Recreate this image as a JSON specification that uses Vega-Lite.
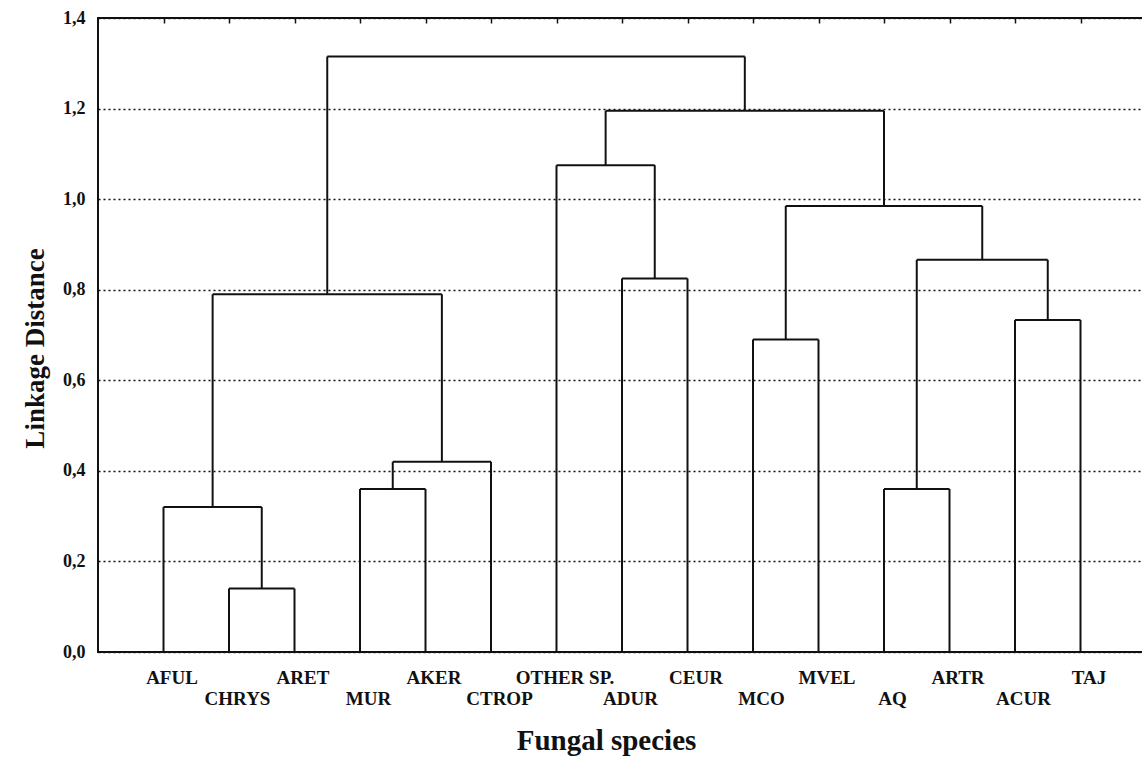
{
  "$schema": "https://vega.github.io/schema/vega-lite/v6.json",
  "autosize": "none",
  "padding": {"left": 98, "top": 18, "right": 0, "bottom": 106},
  "width": 1048,
  "height": 634,
  "background": "white",
  "config": {
    "view": {"stroke": "#111", "strokeWidth": 2},
    "font": "Liberation Serif"
  },
  "data": {
    "values": [
      {"x": 2, "x2": 3, "y": 0.14, "y2": 0.14},
      {"x": 1, "x2": 2.5, "y": 0.32, "y2": 0.32},
      {"x": 4, "x2": 5, "y": 0.36, "y2": 0.36},
      {"x": 4.5, "x2": 6, "y": 0.42, "y2": 0.42},
      {"x": 1.75, "x2": 5.25, "y": 0.79, "y2": 0.79},
      {"x": 8, "x2": 9, "y": 0.825, "y2": 0.825},
      {"x": 7, "x2": 8.5, "y": 1.075, "y2": 1.075},
      {"x": 10, "x2": 11, "y": 0.69, "y2": 0.69},
      {"x": 12, "x2": 13, "y": 0.36, "y2": 0.36},
      {"x": 14, "x2": 15, "y": 0.733, "y2": 0.733},
      {"x": 12.5, "x2": 14.5, "y": 0.866, "y2": 0.866},
      {"x": 10.5, "x2": 13.5, "y": 0.985, "y2": 0.985},
      {"x": 7.75, "x2": 12, "y": 1.195, "y2": 1.195},
      {"x": 3.5, "x2": 9.875, "y": 1.315, "y2": 1.315},
      {"x": 1, "x2": 1, "y": 0, "y2": 0.32},
      {"x": 2, "x2": 2, "y": 0, "y2": 0.14},
      {"x": 3, "x2": 3, "y": 0, "y2": 0.14},
      {"x": 4, "x2": 4, "y": 0, "y2": 0.36},
      {"x": 5, "x2": 5, "y": 0, "y2": 0.36},
      {"x": 6, "x2": 6, "y": 0, "y2": 0.42},
      {"x": 7, "x2": 7, "y": 0, "y2": 1.075},
      {"x": 8, "x2": 8, "y": 0, "y2": 0.825},
      {"x": 9, "x2": 9, "y": 0, "y2": 0.825},
      {"x": 10, "x2": 10, "y": 0, "y2": 0.69},
      {"x": 11, "x2": 11, "y": 0, "y2": 0.69},
      {"x": 12, "x2": 12, "y": 0, "y2": 0.36},
      {"x": 13, "x2": 13, "y": 0, "y2": 0.36},
      {"x": 14, "x2": 14, "y": 0, "y2": 0.733},
      {"x": 15, "x2": 15, "y": 0, "y2": 0.733},
      {"x": 2.5, "x2": 2.5, "y": 0.14, "y2": 0.32},
      {"x": 4.5, "x2": 4.5, "y": 0.36, "y2": 0.42},
      {"x": 1.75, "x2": 1.75, "y": 0.32, "y2": 0.79},
      {"x": 5.25, "x2": 5.25, "y": 0.42, "y2": 0.79},
      {"x": 8.5, "x2": 8.5, "y": 0.825, "y2": 1.075},
      {"x": 12.5, "x2": 12.5, "y": 0.36, "y2": 0.866},
      {"x": 14.5, "x2": 14.5, "y": 0.733, "y2": 0.866},
      {"x": 10.5, "x2": 10.5, "y": 0.69, "y2": 0.985},
      {"x": 13.5, "x2": 13.5, "y": 0.866, "y2": 0.985},
      {"x": 7.75, "x2": 7.75, "y": 1.075, "y2": 1.195},
      {"x": 12, "x2": 12, "y": 0.985, "y2": 1.195},
      {"x": 3.5, "x2": 3.5, "y": 0.79, "y2": 1.315},
      {"x": 9.875, "x2": 9.875, "y": 1.195, "y2": 1.315}
    ]
  },
  "resolve": {"axis": {"x": "independent"}},
  "layer": [
    {
      "mark": {"type": "rule", "color": "#111", "strokeWidth": 2},
      "encoding": {
        "x": {
          "field": "x", "type": "quantitative",
          "scale": {"domain": [0, 16], "nice": false, "zero": false},
          "axis": {
            "orient": "bottom",
            "values": [1, 2, 3, 4, 5, 6, 7, 8, 9, 10, 11, 12, 13, 14, 15],
            "labelExpr": "['', 'AFUL', 'CHRYS', 'ARET', 'MUR', 'AKER', 'CTROP', 'OTHER SP.', 'ADUR', 'CEUR', 'MCO', 'MVEL', 'AQ', 'ARTR', 'ACUR', 'TAJ'][datum.value]",
            "labelPadding": {"condition": {"test": "datum.value % 2 == 0", "value": 37}, "value": 16},
            "labelOffset": 8,
            "labelFont": "Liberation Serif",
            "labelFontWeight": "bold",
            "labelFontSize": 19,
            "labelColor": "#111",
            "labelOverlap": false,
            "labelFlush": false,
            "ticks": false,
            "domain": false,
            "grid": false,
            "title": "Fungal species",
            "titleFont": "Liberation Serif",
            "titleFontWeight": "bold",
            "titleFontSize": 29,
            "titleColor": "#111",
            "titlePadding": 18,
            "titleX": 508
          }
        },
        "x2": {"field": "x2"},
        "y": {
          "field": "y", "type": "quantitative",
          "scale": {"domain": [0, 1.4], "nice": false, "zero": false},
          "axis": {
            "values": [0, 0.2, 0.4, 0.6, 0.8, 1.0, 1.2, 1.4],
            "labelExpr": "replace(format(datum.value, '.1f'), '.', ',')",
            "labelFont": "Liberation Serif",
            "labelFontWeight": "bold",
            "labelFontSize": 18,
            "labelColor": "#111",
            "labelPadding": 13,
            "ticks": false,
            "domain": false,
            "grid": true,
            "gridColor": "#111",
            "gridDash": [2, 3],
            "gridWidth": 1.5,
            "title": "Linkage Distance",
            "titleFont": "Liberation Serif",
            "titleFontWeight": "bold",
            "titleFontSize": 27,
            "titleColor": "#111",
            "titlePadding": 13,
            "titleY": 330
          }
        },
        "y2": {"field": "y2"}
      }
    },
    {
      "mark": {"type": "rule", "opacity": 0},
      "encoding": {
        "x": {
          "field": "x", "type": "quantitative",
          "axis": {
            "orient": "top",
            "values": [1, 2, 3, 4, 5, 6, 7, 8, 9, 10, 11, 12, 13, 14, 15],
            "labels": false,
            "ticks": true,
            "tickSize": -5,
            "tickColor": "#111",
            "tickWidth": 1.5,
            "domain": false,
            "grid": false,
            "title": null
          }
        }
      }
    }
  ]
}
